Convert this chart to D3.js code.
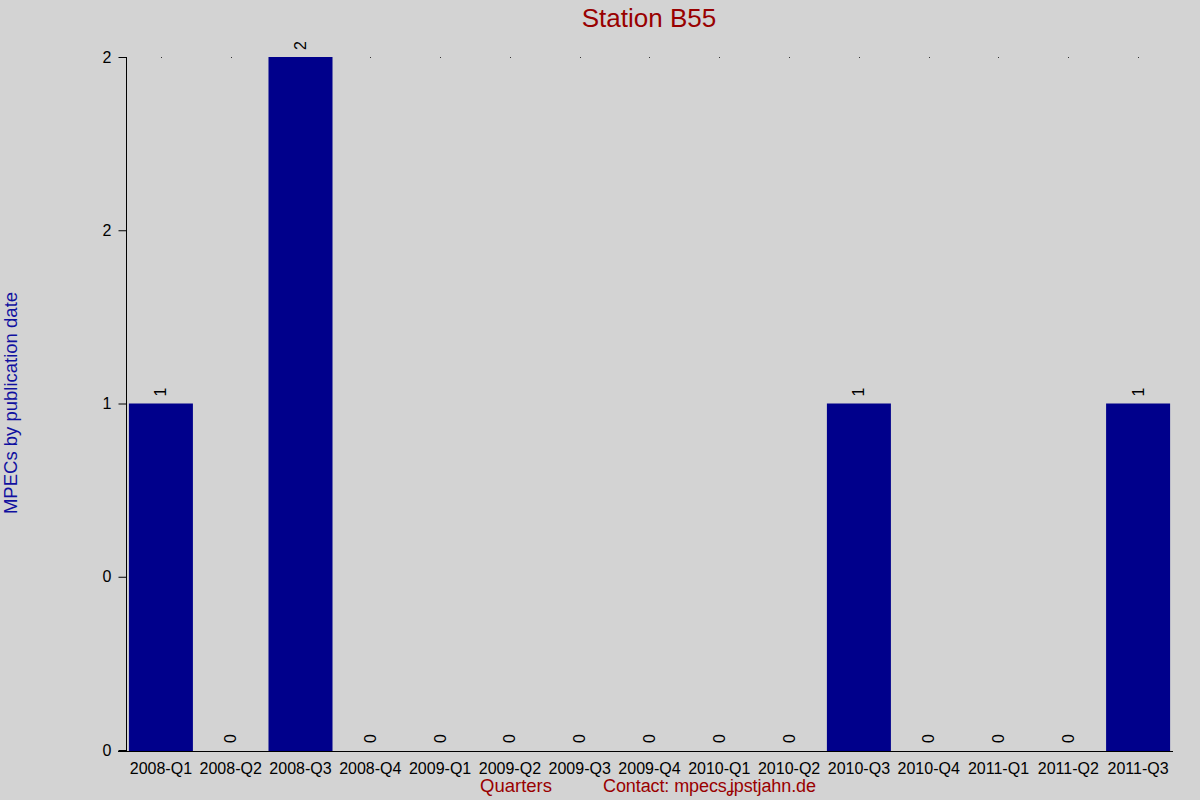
<!DOCTYPE html>
<html>
<head>
<meta charset="utf-8">
<script src="https://cdn.jsdelivr.net/npm/d3@7"></script>
<style>
  body { margin: 0; background: #d3d3d3; }
  svg { display: block; font-family: "Liberation Sans", Arial, sans-serif; }
</style>
</head>
<body>
<div id="chart"></div>
<script>
// Chart data
const quarters = ['2008-Q1', '2008-Q2', '2008-Q3', '2008-Q4', '2009-Q1', '2009-Q2', '2009-Q3',
    '2009-Q4', '2010-Q1', '2010-Q2', '2010-Q3', '2010-Q4', '2011-Q1', '2011-Q2', '2011-Q3'];
const mpecs = [1, 0, 2, 0, 0, 0, 0, 0, 0, 0, 1, 0, 0, 0, 1];
const yTickValues = [0, 0.5, 1, 1.5, 2];
const yTickLabels = ['0', '0', '1', '2', '2'];

const width = 1200, height = 800;
const plotLeft = 126, plotRight = 1173, plotTop = 57, plotBottom = 751;

const svg = d3.select('#chart')
    .append('svg')
    .attr('width', width)
    .attr('height', height);

svg.append('rect')
    .attr('width', width)
    .attr('height', height)
    .attr('fill', '#d3d3d3');

const x = d3.scaleBand()
    .domain(quarters)
    .range([plotLeft, plotRight])
    .paddingInner(0.083)
    .paddingOuter(0.0415);

const y = d3.scaleLinear()
    .domain([0, 2])
    .range([plotBottom - 1, plotTop]);

// Little dots along the top line
svg.selectAll('.dot')
    .data(quarters)
    .enter()
    .append('rect')
    .attr('x', d => Math.round(x(d) + x.bandwidth() / 2))
    .attr('y', plotTop)
    .attr('width', 1)
    .attr('height', 1)
    .attr('fill', '#333');

// Bars (only the non-zero ones show up)
svg.selectAll('.bar')
    .data(quarters.filter((d, i) => mpecs[i] > 0))
    .enter()
    .append('rect')
    .attr('x', d => x(d))
    .attr('y', d => y(mpecs[quarters.indexOf(d)]))
    .attr('width', x.bandwidth())
    .attr('height', d => y(0) - y(mpecs[quarters.indexOf(d)]) + 1)
    .attr('fill', '#00008b');

// Value labels, rotated
svg.selectAll('.val')
    .data(quarters)
    .enter()
    .append('text')
    .attr('transform', (d, i) => `translate(${x(d) + x.bandwidth() / 2 + 5.5},${y(mpecs[i]) - 7}) rotate(-90)`)
    .attr('text-anchor', 'start')
    .attr('font-size', 16)
    .attr('fill', '#000')
    .text((d, i) => mpecs[i]);

// Y axis
const yAxis = d3.axisLeft(y)
    .tickValues(yTickValues)
    .tickFormat((d, i) => yTickLabels[i])
    .tickSize(8)
    .tickPadding(7)
    .tickSizeOuter(0);

const gy = svg.append('g')
    .attr('transform', `translate(${plotLeft + 0.5},0)`)
    .call(yAxis);
gy.select('.domain').attr('stroke', '#000').attr('d', `M0,${plotTop}V${plotBottom}`);
gy.selectAll('text').attr('font-size', 16).attr('fill', '#000').attr('font-family', '"Liberation Sans", Arial, sans-serif');

// X axis
svg.append('line')
    .attr('x1', plotLeft - 8)
    .attr('x2', plotRight)
    .attr('y1', plotBottom + 0.5)
    .attr('y2', plotBottom + 0.5)
    .attr('stroke', '#000');

svg.selectAll('.xlab')
    .data(quarters)
    .enter()
    .append('text')
    .attr('x', d => x(d) + x.bandwidth() / 2)
    .attr('y', 774)
    .attr('text-anchor', 'middle')
    .attr('font-size', 16)
    .attr('fill', '#000')
    .text(d => d);

// Titles
svg.append('text')
    .attr('x', 649)
    .attr('y', 27)
    .attr('text-anchor', 'middle')
    .attr('font-size', 26)
    .attr('fill', '#990000')
    .text('Station B55');

svg.append('text')
    .attr('transform', 'translate(17,403) rotate(-90)')
    .attr('text-anchor', 'middle')
    .attr('font-size', 18.5)
    .attr('fill', '#1010a0')
    .text('MPECs by publication date');

svg.append('text')
    .attr('x', 516)
    .attr('y', 792)
    .attr('text-anchor', 'middle')
    .attr('font-size', 18.5)
    .attr('fill', '#990000')
    .text('Quarters');

svg.append('text')
    .attr('x', 603)
    .attr('y', 792)
    .attr('text-anchor', 'start')
    .attr('font-size', 18)
    .attr('textLength', 213)
    .attr('fill', '#990000')
    .text('Contact: mpecsʝpstjahn.de');
</script>
</body>
</html>
